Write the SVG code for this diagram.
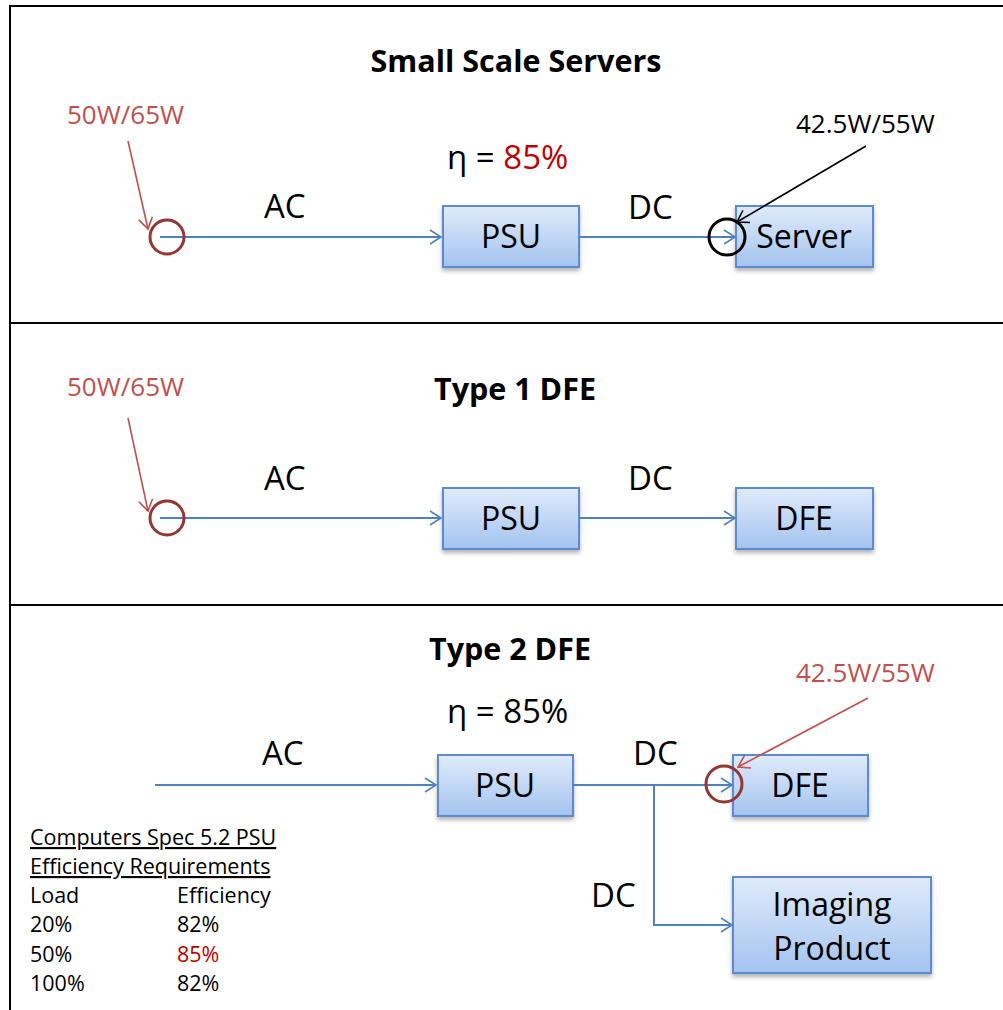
<svg xmlns="http://www.w3.org/2000/svg" width="1003" height="1010" viewBox="0 0 1003 1010">
<style>
text{font-family:"Open Sans","Noto Sans",sans-serif;fill:#000}
.t{font-weight:bold;font-size:30.5px;text-anchor:middle}
.lb{font-size:33px}
.bx{font-size:32px;text-anchor:middle}
.ann{font-size:26px}
.red{fill:#c0504d}
.dred{fill:#c00000}
.tb{font-size:21.5px}
.box{fill:url(#g);stroke:#5b8bd0;stroke-width:2}
.wire{stroke:#4f81bd;stroke-width:2;fill:none}
.panel{stroke:#000;stroke-width:2;fill:none}
</style>
<defs>
<linearGradient id="g" x1="0" y1="0" x2="0" y2="1">
<stop offset="0" stop-color="#e0ebfb"/>
<stop offset="1" stop-color="#a3c3ef"/>
</linearGradient>
<filter id="sh" x="-10%" y="-10%" width="130%" height="140%">
<feDropShadow dx="0" dy="3" stdDeviation="2" flood-color="#000" flood-opacity="0.3"/>
</filter>
<marker id="ab" markerWidth="14" markerHeight="16" refX="12" refY="8" orient="auto" markerUnits="userSpaceOnUse">
<path d="M1,1 L12,8 L1,15" fill="none" stroke="#4f81bd" stroke-width="1.6"/>
</marker>
<marker id="ar" markerWidth="14" markerHeight="16" refX="12" refY="8" orient="auto" markerUnits="userSpaceOnUse">
<path d="M1,1 L12,8 L1,15" fill="none" stroke="#c0504d" stroke-width="1.6"/>
</marker>
<marker id="ak" markerWidth="14" markerHeight="16" refX="12" refY="8" orient="auto" markerUnits="userSpaceOnUse">
<path d="M1,1 L12,8 L1,15" fill="none" stroke="#000" stroke-width="1.6"/>
</marker>
</defs>
<rect width="1003" height="1010" fill="#fff"/>
<g id="panels">
<path class="panel" d="M1003,6 H10 V1010"/>
<line class="panel" x1="10" y1="323" x2="1003" y2="323"/>
<line class="panel" x1="10" y1="605" x2="1003" y2="605"/>
</g>

<g id="panel1">
<text class="t" x="516" y="72">Small Scale Servers</text>
<text class="ann red" x="67" y="124">50W/65W</text>
<text class="lb" x="264" y="218">AC</text>
<text class="lb" x="447" y="169">η = <tspan class="dred">85%</tspan></text>
<text class="lb" x="628" y="219">DC</text>
<text class="ann" x="796" y="133">42.5W/55W</text>
</g>
<g id="psu1"><rect class="box" filter="url(#sh)" x="443" y="206" width="136" height="61"/><text class="bx" x="511" y="248">PSU</text></g>
<g id="server"><rect class="box" filter="url(#sh)" x="736" y="206" width="137" height="61"/><text class="bx" x="804" y="248">Server</text></g>

<g id="panel2">
<text class="t" x="515" y="400">Type 1 DFE</text>
<text class="ann red" x="67" y="396">50W/65W</text>
<text class="lb" x="264" y="490">AC</text>
<text class="lb" x="628" y="490">DC</text>
</g>
<g id="psu2"><rect class="box" filter="url(#sh)" x="443" y="488" width="136" height="61"/><text class="bx" x="511" y="530">PSU</text></g>
<g id="dfe1"><rect class="box" filter="url(#sh)" x="736" y="488" width="137" height="61"/><text class="bx" x="804" y="530">DFE</text></g>

<g id="panel3">
<text class="t" x="510" y="660">Type 2 DFE</text>
<text class="lb" x="447" y="723">η = 85%</text>
<text class="lb" x="262" y="765">AC</text>
<text class="lb" x="633" y="765">DC</text>
<text class="lb" x="591" y="907">DC</text>
<text class="ann red" x="796" y="682">42.5W/55W</text>
</g>
<g id="psu3"><rect class="box" filter="url(#sh)" x="438" y="755" width="135" height="61"/><text class="bx" x="505" y="797">PSU</text></g>
<g id="dfe2"><rect class="box" filter="url(#sh)" x="733" y="755" width="135" height="61"/><text class="bx" x="800" y="797">DFE</text></g>
<g id="imaging"><rect class="box" filter="url(#sh)" x="733" y="877" width="198" height="96"/><text class="bx" x="832" y="916">Imaging</text><text class="bx" x="832" y="960">Product</text></g>

<g id="table">
<text class="tb" x="30" y="845" text-decoration="underline">Computers Spec 5.2 PSU</text>
<text class="tb" x="30" y="874" text-decoration="underline">Efficiency Requirements</text>
<text class="tb" x="30" y="903">Load</text><text class="tb" x="177" y="903">Efficiency</text>
<text class="tb" x="30" y="932">20%</text><text class="tb" x="177" y="932">82%</text>
<text class="tb" x="30" y="962">50%</text><text class="tb dred" x="177" y="962">85%</text>
<text class="tb" x="30" y="991">100%</text><text class="tb" x="177" y="991">82%</text>
</g>

<g id="connectors">
<line class="wire" x1="160" y1="237" x2="441" y2="237" marker-end="url(#ab)"/>
<line class="wire" x1="579" y1="237" x2="735" y2="237" marker-end="url(#ab)"/>
<line class="wire" x1="160" y1="518" x2="441" y2="518" marker-end="url(#ab)"/>
<line class="wire" x1="579" y1="518" x2="735" y2="518" marker-end="url(#ab)"/>
<line class="wire" x1="155" y1="785" x2="436" y2="785" marker-end="url(#ab)"/>
<line class="wire" x1="573" y1="785" x2="732" y2="785" marker-end="url(#ab)"/>
<polyline class="wire" points="654,785 654,925 732,925" marker-end="url(#ab)"/>
<circle cx="167" cy="237" r="17" fill="none" stroke="#943634" stroke-width="3"/>
<circle cx="167" cy="518" r="17" fill="none" stroke="#943634" stroke-width="3"/>
<circle cx="727" cy="237" r="18" fill="none" stroke="#000" stroke-width="3"/>
<circle cx="724" cy="784" r="18" fill="none" stroke="#943634" stroke-width="3"/>
<line x1="128" y1="141" x2="148" y2="229" stroke="#c0504d" stroke-width="1.6" marker-end="url(#ar)"/>
<line x1="128" y1="418" x2="148" y2="511" stroke="#c0504d" stroke-width="1.6" marker-end="url(#ar)"/>
<line x1="866" y1="146" x2="737" y2="222" stroke="#000" stroke-width="1.6" marker-end="url(#ak)"/>
<line x1="868" y1="698" x2="738" y2="767" stroke="#c0504d" stroke-width="1.6" marker-end="url(#ar)"/>
</g>
</svg>
